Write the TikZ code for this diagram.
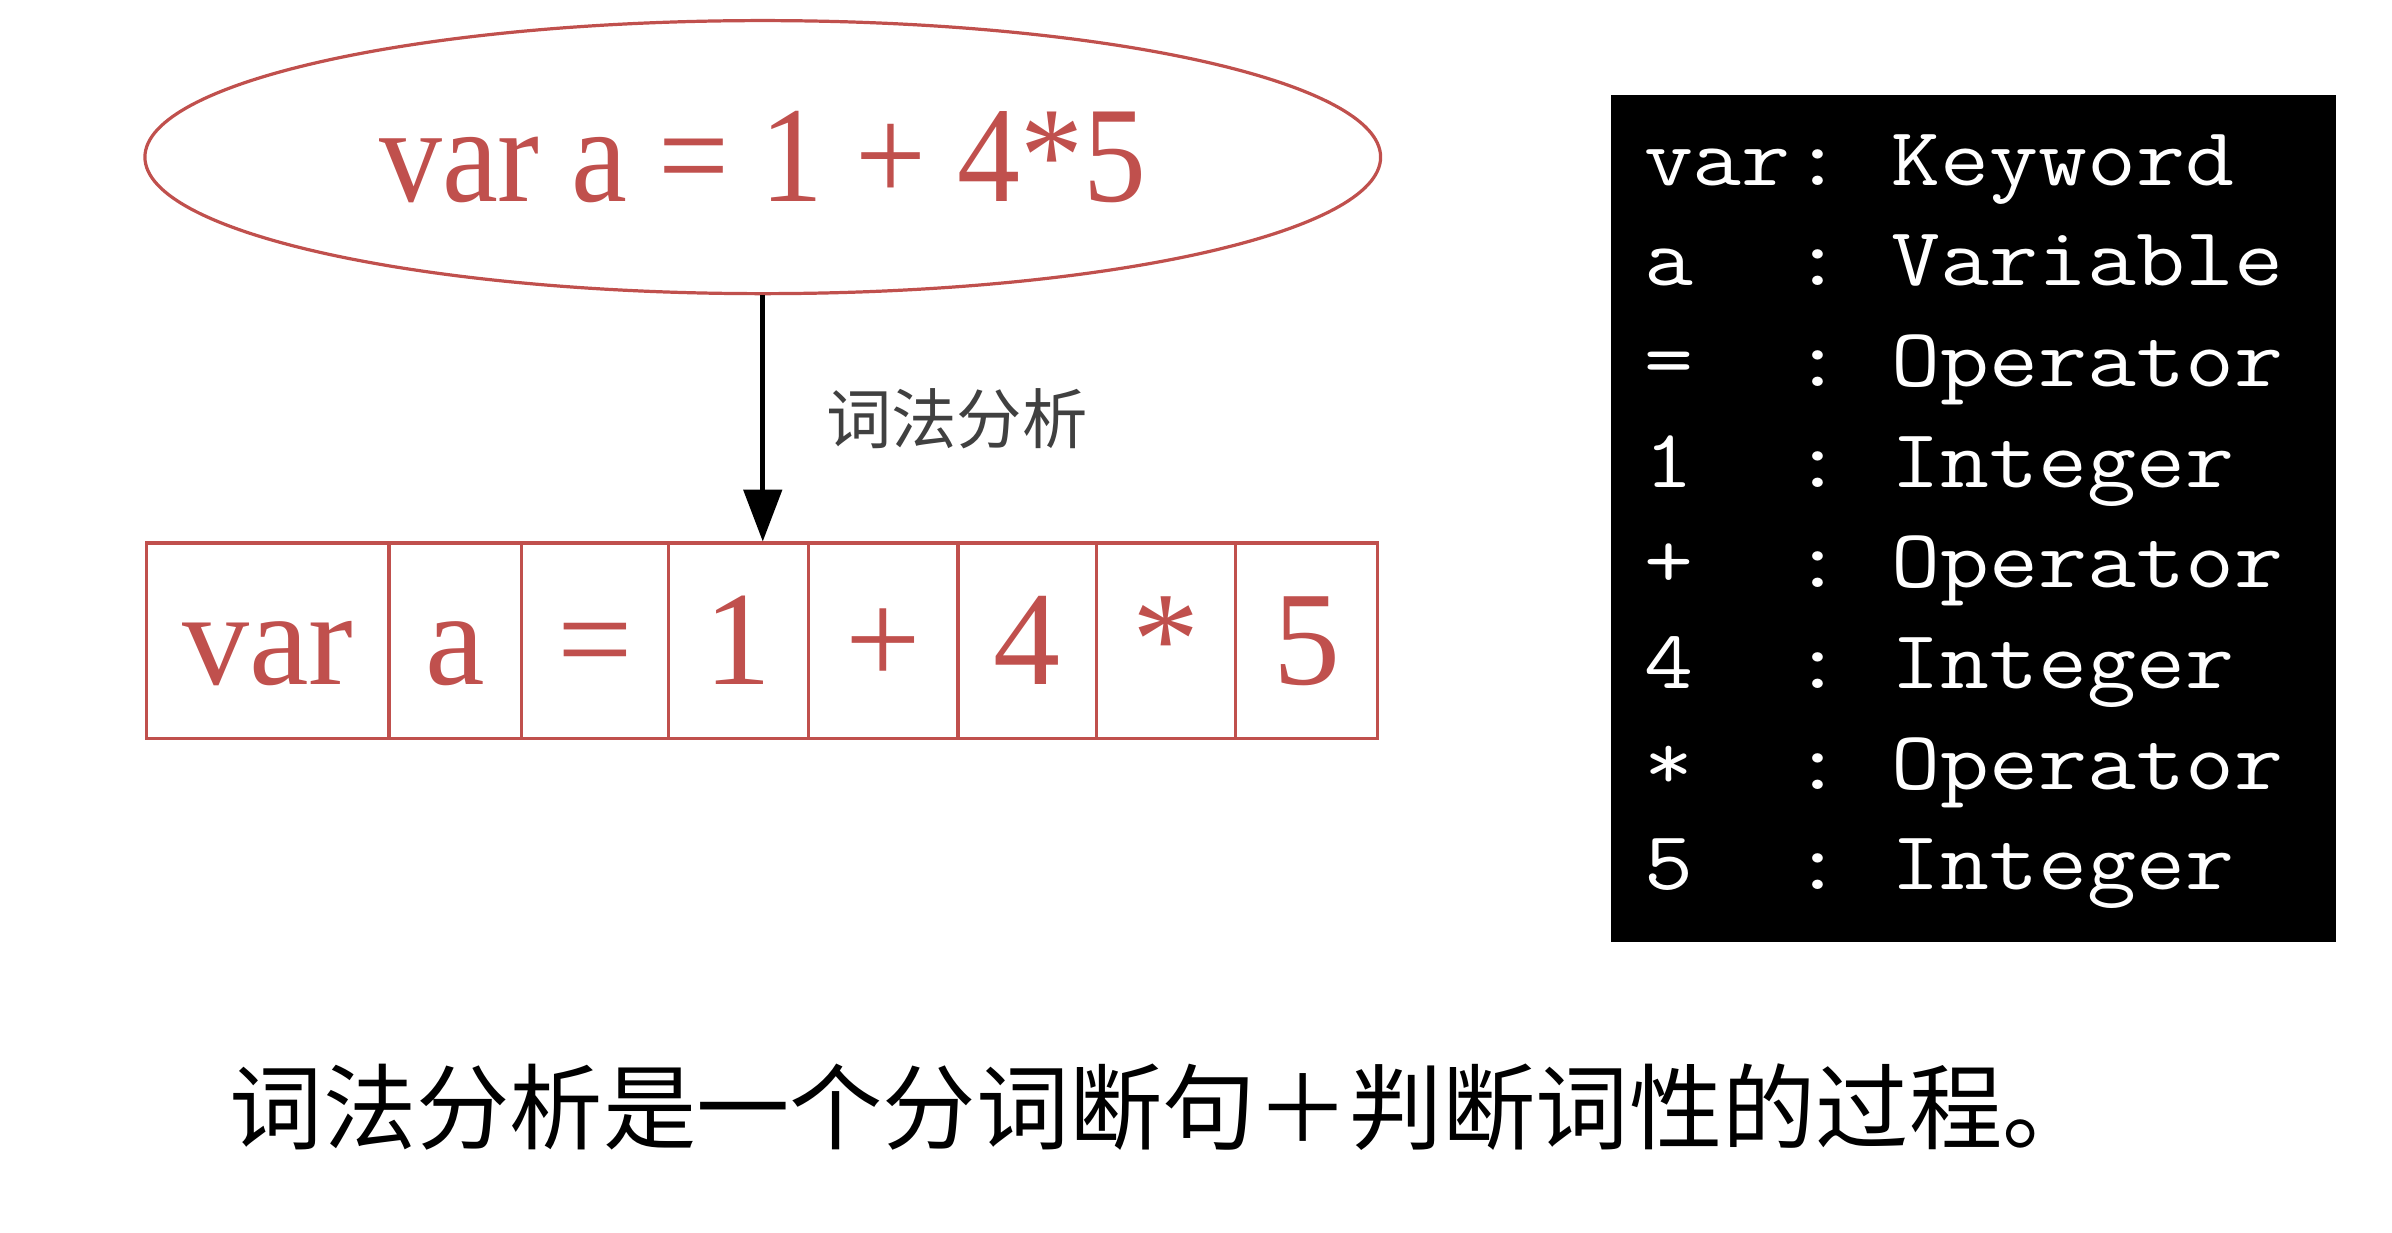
\documentclass[tikz,border=0pt]{standalone}
\usepackage{graphicx}
\usepackage{fontspec}
\setmainfont{Liberation Serif}
\newfontfamily\cjk{Noto Sans CJK SC}
\usetikzlibrary{shapes.geometric, arrows.meta}
\definecolor{lexred}{RGB}{192,80,77}

\begin{document}
\begin{tikzpicture}[
    lex/.style={draw=lexred, text=lexred, line width=0.6pt},
    cell/.style={lex, inner sep=0pt, minimum height=1.28cm, text height=0.58cm, text depth=0pt, font=\fontsize{25}{25}\selectfont},
    tokline/.style={anchor=base west, inner sep=0pt, text=white, font=\ttfamily\fontsize{15.5}{15.5}\selectfont}
]
    \useasboundingbox (0,0) rectangle (15.68,8.08);
    \node[lex, ellipse, minimum width=8.1cm, minimum height=1.79cm, inner sep=0pt, font=\fontsize{25.5}{25.5}\selectfont] (expr) at (5.00,7.05) {\scalebox{0.92}[1]{var a = 1 + 4*5}};
    \foreach \x/\w/\t [count=\i] in {1.755/1.59/var, 2.985/0.87/a, 3.90/0.96/=, 4.84/0.92/1, 5.79/0.98/+, 6.735/0.91/4, 7.645/0.91/*, 8.565/0.93/5}
        \node[cell, minimum width=\w cm] (c\i) at (\x,3.88) {\t};
    \draw[line width=0.85pt, -{Triangle[length=0.34cm, width=0.25cm]}] (expr.south) -- (expr.south |- c4.north)
        node[midway, anchor=west, xshift=0.40cm, inner sep=0pt, font=\cjk\fontsize{12.2}{12.2}\selectfont, text=black!75] (lbl) {词法分析};
    \node[fill=black, minimum width=4.75cm, minimum height=5.55cm, inner sep=0pt] (panel) at (12.935,4.682) {};
    \foreach \k/\v [count=\i] in {var/Keyword, a/Variable, =/Operator, 1/Integer, +/Operator, 4/Integer, */Operator, 5/Integer} {
        \node[tokline] (tok\i) at (10.77,{6.867-0.66*(\i-1)}) {\scalebox{1.143}[1]{\k}};
        \node[tokline] (typ\i) at (11.751,{6.867-0.66*(\i-1)}) {\scalebox{1.143}[1]{:\ \v}};
    }
    \node[anchor=west, inner sep=0pt, font=\cjk\fontsize{17.4}{17.4}\selectfont] (summary) at (1.50,0.825) {词法分析是一个分词断句＋判断词性的过程。};
\end{tikzpicture}
\end{document}
